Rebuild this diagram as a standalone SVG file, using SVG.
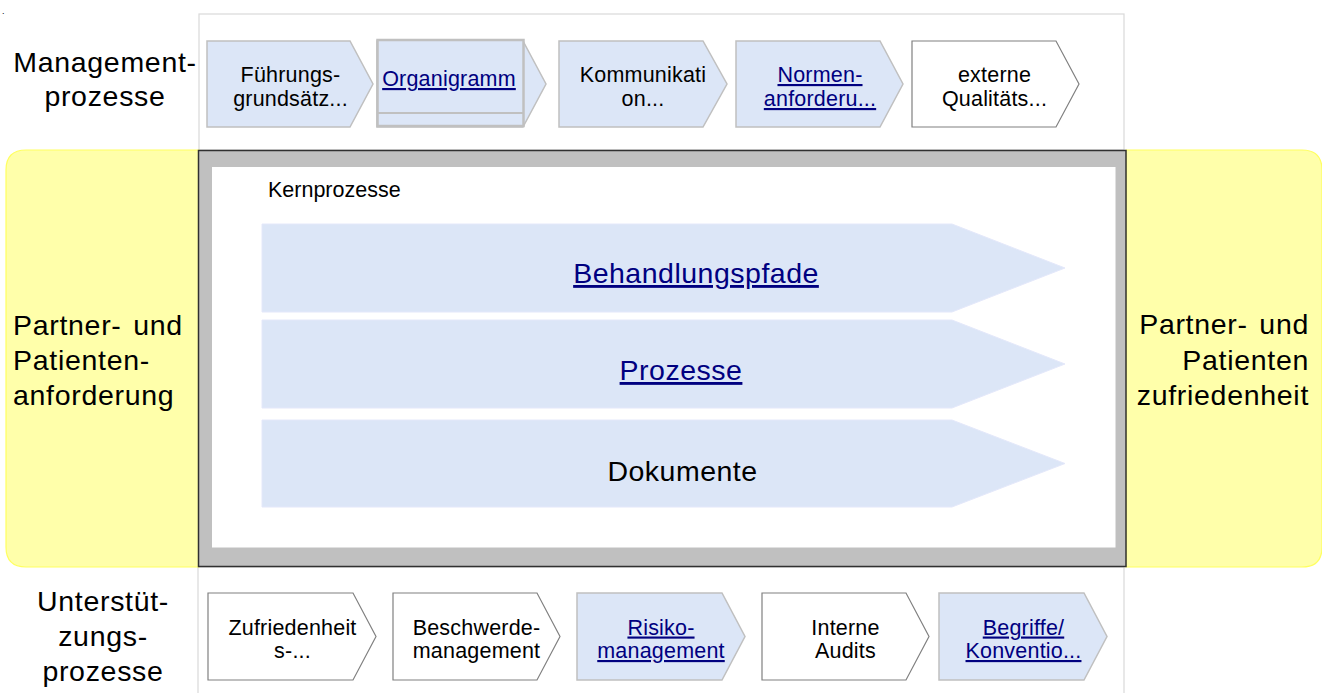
<svg xmlns="http://www.w3.org/2000/svg" width="1322" height="693" viewBox="0 0 1322 693">
<style>
text{font-family:"Liberation Sans",Arial,sans-serif;fill:#000}
.big{font-size:28.5px;letter-spacing:0.7px;word-spacing:3px}
.sm{font-size:21.5px;text-anchor:middle;letter-spacing:0.2px}
.core{font-size:28.5px;text-anchor:middle;letter-spacing:0.5px}
.lnk{fill:#000080;text-decoration:underline}
.blue{fill:#dce6f7;stroke:#c0c0c0;stroke-width:1.5}
.white{fill:#fff;stroke:#808080;stroke-width:1.2}
.coreArrow{fill:#dce6f7;stroke:#e4e8fa;stroke-width:1}
.panel{fill:#fff;stroke:#d9d9d9;stroke-width:1.2}
.yellow{fill:#ffffaa;stroke:#ffff60;stroke-width:1.2}
</style>
<rect width="1322" height="693" fill="#fff"/>
<text x="2" y="14" style="font-size:9px">.</text>

<g id="panel-management">
<rect class="panel" x="199" y="14" width="925" height="136"/>
<text class="big" x="105" y="72" text-anchor="middle">Management-</text>
<text class="big" x="105" y="106" text-anchor="middle">prozesse</text>
</g>
<g id="panel-support">
<rect class="panel" x="198" y="567" width="926" height="130"/>
<text class="big" x="103" y="611" text-anchor="middle">Unterstüt-</text>
<text class="big" x="103" y="646" text-anchor="middle">zungs-</text>
<text class="big" x="103" y="681" text-anchor="middle">prozesse</text>
</g>

<g id="left-req">
<path class="yellow" d="M199,150 L26,150 Q6,150 6,170 L6,547 Q6,567 26,567 L199,567 Z"/>
<text class="big" x="13" y="335">Partner- und</text>
<text class="big" x="13" y="370">Patienten-</text>
<text class="big" x="13" y="405">anforderung</text>
</g>
<g id="right-sat">
<path class="yellow" d="M1126,150 L1302,150 Q1322,150 1322,170 L1322,547 Q1322,567 1302,567 L1126,567 Z"/>
<text class="big" x="1309" y="334" text-anchor="end">Partner- und</text>
<text class="big" x="1309" y="370" text-anchor="end">Patienten</text>
<text class="big" x="1309" y="405" text-anchor="end">zufriedenheit</text>
</g>

<g id="core-frame">
<rect x="198.5" y="150.5" width="927.5" height="416" fill="#c0c0c0" stroke="#303030" stroke-width="1.5"/>
<rect x="212" y="167" width="903.5" height="380.5" fill="#fff"/>
<text x="268" y="197" style="font-size:21.5px">Kernprozesse</text>
</g>

<g id="core-behandlungspfade">
<polygon class="coreArrow" points="262,224 952,224 1065,268 952,312 262,312"/>
<text class="core lnk" x="696" y="283">Behandlungspfade</text>
</g>
<g id="core-prozesse">
<polygon class="coreArrow" points="262,320 952,320 1065,364 952,408 262,408"/>
<text class="core lnk" x="681" y="380">Prozesse</text>
</g>
<g id="core-dokumente">
<polygon class="coreArrow" points="262,420 952,420 1065,463.5 952,507 262,507"/>
<text class="core" x="682.5" y="481">Dokumente</text>
</g>

<g id="m-fuehrung">
<polygon class="blue" points="207,41 350,41 373,84 350,127 207,127"/>
<text class="sm" x="290.5" y="82">Führungs-</text>
<text class="sm" x="290.5" y="106">grundsätz...</text>
</g>
<g id="m-organigramm">
<polygon class="blue" points="377,41 523,41 546,84 523,127 377,127"/>
<rect x="377.5" y="40" width="146" height="86" fill="#dce6f7" stroke="#c0c0c0" stroke-width="2.5"/>
<line x1="377.5" y1="113" x2="523.5" y2="113" stroke="#c0c0c0" stroke-width="2"/>
<text class="sm lnk" x="449" y="86">Organigramm</text>
</g>
<g id="m-kommunikation">
<polygon class="blue" points="559,41 703,41 727,84 703,127 559,127"/>
<text class="sm" x="643" y="82">Kommunikati</text>
<text class="sm" x="643" y="106">on...</text>
</g>
<g id="m-normen">
<polygon class="blue" points="736,41 880,41 903,84 880,127 736,127"/>
<text class="sm lnk" x="820" y="82">Normen-</text>
<text class="sm lnk" x="820" y="106">anforderu...</text>
</g>
<g id="m-extern">
<polygon class="white" points="912,41 1056,41 1079,84 1056,127 912,127"/>
<text class="sm" x="994.5" y="82">externe</text>
<text class="sm" x="994.5" y="106">Qualitäts...</text>
</g>

<g id="s-zufriedenheit">
<polygon class="white" points="208,593 353,593 376,636.5 353,680 208,680"/>
<text class="sm" x="292.5" y="634.5">Zufriedenheit</text>
<text class="sm" x="292.5" y="658">s-...</text>
</g>
<g id="s-beschwerde">
<polygon class="white" points="393,593 537,593 560,636.5 537,680 393,680"/>
<text class="sm" x="476.5" y="634.5">Beschwerde-</text>
<text class="sm" x="476.5" y="658">management</text>
</g>
<g id="s-risiko">
<polygon class="blue" points="577,593 722,593 745,636.5 722,680 577,680"/>
<text class="sm lnk" x="661" y="634.5">Risiko-</text>
<text class="sm lnk" x="661" y="658">management</text>
</g>
<g id="s-audits">
<polygon class="white" points="762,593 906,593 929,636.5 906,680 762,680"/>
<text class="sm" x="845.5" y="634.5">Interne</text>
<text class="sm" x="845.5" y="658">Audits</text>
</g>
<g id="s-begriffe">
<polygon class="blue" points="939,593 1084,593 1107,636.5 1084,680 939,680"/>
<text class="sm lnk" x="1023.5" y="634.5">Begriffe/</text>
<text class="sm lnk" x="1023.5" y="658">Konventio...</text>
</g>

<g id="connectors"></g>
</svg>
